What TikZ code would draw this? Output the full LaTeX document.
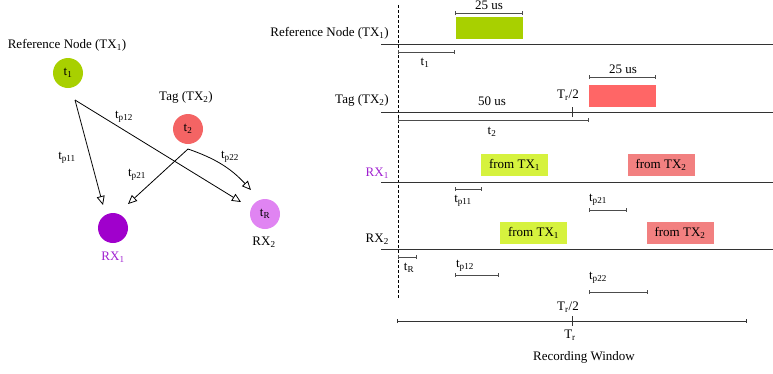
\documentclass[tikz,border=0pt]{standalone}
\usepackage{fontspec}
\setmainfont{Liberation Serif}
\usetikzlibrary{arrows.meta}
\definecolor{limeg}{HTML}{A8D000}
\definecolor{limel}{HTML}{D6F23E}
\definecolor{redd}{HTML}{FF6666}
\definecolor{redl}{HTML}{F28080}
\definecolor{tagred}{HTML}{F46464}
\definecolor{rxpurple}{HTML}{A000CC}
\definecolor{rxviolet}{HTML}{E084F2}
\definecolor{lblpurple}{HTML}{A020D0}
\newcommand\ssub[1]{\textsubscript{#1}}
\begin{document}
\begin{tikzpicture}[x=1pt,y=-1pt,font=\fontsize{13}{15}\selectfont,
  txt/.style={inner sep=0pt},
  circ/.style={circle,minimum size=30pt,inner sep=0pt},
  sig/.style={line width=0.8pt,-{Triangle[open,length=9pt,width=8pt]}},
  axis/.style={line width=0.9pt,black!80},
  span/.style={line width=0.9pt,black!70,{Bar[width=4pt]}-{Bar[width=4pt]}},
  box/.style={minimum width=67pt,minimum height=22pt,inner sep=0pt},
  tick/.style={line width=0.9pt,black!80}]
\useasboundingbox (0,0) rectangle (773,373);
% ---------- left: geometry ----------
\node[txt] (refl) at (67,45) {Reference Node (TX\ssub{1})};
\node[circ,fill=limeg] (t1) at (68,73) {t\ssub{1}};
\node[txt] (tagl) at (186,97) {Tag (TX\ssub{2})};
\node[circ,fill=tagred] (t2) at (188,129) {t\ssub{2}};
\node[circ,fill=rxpurple] (rx1) at (113,228) {};
\node[txt,text=lblpurple] (rx1l) at (113,257) {RX\ssub{1}};
\node[circ,fill=rxviolet] (tR) at (265,214) {t\ssub{R}};
\node[txt] (rx2l) at (264,242) {RX\ssub{2}};
\coordinate (s1) at (75,100);
\coordinate (s2) at (188,149);
\coordinate (e11) at (103,205);
\coordinate (e21) at (128,204);
\coordinate (e12) at (241,202);
\coordinate (e22) at (251,190);
\draw[sig] (s1) -- (e11);
\draw[sig] (s1) -- (e12);
\draw[sig] (s2) -- (e21);
\draw[sig] (s2) to[bend left=14] (e22);
\node[txt] (lp11) at (67,158) {t\ssub{p11}};
\node[txt] (lp12) at (124,117) {t\ssub{p12}};
\node[txt] (lp21) at (137,175) {t\ssub{p21}};
\node[txt] (lp22) at (230,157) {t\ssub{p22}};
% ---------- right: timelines ----------
\draw[line width=0.8pt,dash pattern=on 3pt off 2pt] (398,5) -- (398,298);
\node[txt,anchor=east] (trefl) at (389,33) {Reference Node (TX\ssub{1})};
\node[txt,anchor=east] (ttagl) at (389,100) {Tag (TX\ssub{2})};
\node[txt,anchor=east,text=lblpurple] (trx1) at (389,173) {RX\ssub{1}};
\node[txt,anchor=east] (trx2) at (389,239) {RX\ssub{2}};
\draw[axis] (381,44) -- (773,44);
\draw[axis] (381,112) -- (773,112);
\draw[axis] (381,182) -- (773,182);
\draw[axis] (381,249) -- (773,249);
% TX1
\node[box,fill=limeg] (g1) at (489,28) {};
\draw[span] (455,13) -- (523,13);
\node[txt] (us1) at (489,5.5) {25 us};
\draw[span] (398,52) -- (455,52);
\node[txt] (lt1) at (425,63) {t\ssub{1}};
% TX2
\node[box,fill=redd] (r1) at (622.5,95.5) {};
\draw[span] (589,77) -- (656,77);
\node[txt] (us2) at (623,69) {25 us};
\node[txt] (us50) at (492,101) {50 us};
\draw[span] (398,120) -- (589,120);
\node[txt] (lt2) at (492,132) {t\ssub{2}};
\draw[tick] (572,107) -- (572,117);
\node[txt] (tr2a) at (568,95) {T\ssub{r}/2};
% RX1
\node[box,fill=limel] (g2) at (514.5,165) {from TX\ssub{1}};
\node[box,fill=redl] (r2) at (661,165) {from TX\ssub{2}};
\draw[span] (455,189) -- (482,189);
\node[txt] (lt11) at (463,201) {t\ssub{p11}};
\draw[span] (589,210) -- (627,210);
\node[txt] (lt21) at (598,200) {t\ssub{p21}};
% RX2
\node[box,fill=limel] (g3) at (533.5,232.5) {from TX\ssub{1}};
\node[box,fill=redl] (r3) at (680,232.5) {from TX\ssub{2}};
\draw[span] (398,257) -- (417,257);
\node[txt] (ltR) at (409,268) {t\ssub{R}};
\draw[span] (455,275) -- (499,275);
\node[txt] (lt12) at (465,266) {t\ssub{p12}};
\draw[span] (589,292) -- (648,292);
\node[txt] (lt22) at (598,278) {t\ssub{p22}};
% recording window
\draw[axis,{Bar[width=4pt]}-{Bar[width=4pt]}] (397,321) -- (747,321);
\draw[tick] (572,316) -- (572,326);
\node[txt] (tr2b) at (568,307) {T\ssub{r}/2};
\node[txt] (trr) at (570,335) {T\ssub{r}};
\node[txt] (rw) at (584,357) {Recording Window};
\end{tikzpicture}
\end{document}
